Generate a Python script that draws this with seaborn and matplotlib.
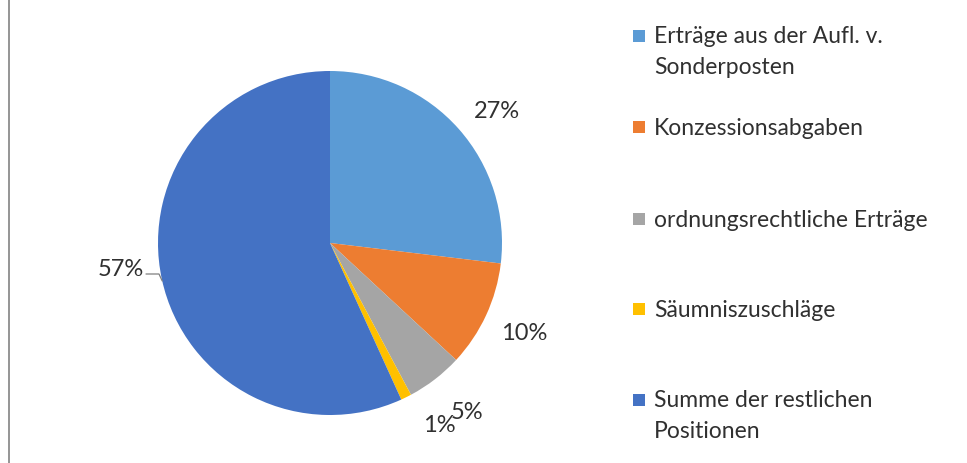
import matplotlib
matplotlib.use("Agg")
import matplotlib.pyplot as plt
import seaborn as sns
import numpy as np
from matplotlib.patches import Rectangle
from matplotlib.lines import Line2D

categories = [
    "Erträge aus der Aufl. v.\nSonderposten",
    "Konzessionsabgaben",
    "ordnungsrechtliche Erträge",
    "Säumniszuschläge",
    "Summe der restlichen\nPositionen",
]
values = [26.9, 10.0, 5.3, 1.0, 56.8]
colors = ["#5B9BD5", "#ED7D31", "#A5A5A5", "#FFC000", "#4472C4"]

sns.set_theme(style="white")
plt.rcParams["font.family"] = ["Lato", "DejaVu Sans"]
TXT = "#303030"

fig = plt.figure(figsize=(9.67, 4.64), dpi=100)
W, H = 967, 464
r = 172
cx, cy = 330, 244
ax = fig.add_axes([(cx - r) / W, 1 - (cy + r) / H, 2 * r / W, 2 * r / H])
wedges, texts, autotexts = ax.pie(
    values, colors=colors, startangle=90, counterclock=False,
    autopct=lambda p: f"{p:.0f}%", pctdistance=1.24,
    textprops=dict(fontsize=17, color=TXT),
    wedgeprops=dict(linewidth=0),
)
ax.set_aspect("equal")
ax.set_xlim(-1, 1)
ax.set_ylim(-1, 1)
ax.axis("off")

# nudge labels (pixel offsets converted to axis units) like the reference
nudges = [(7, -9), (1, 0), (7, 0), (15, 10), (-1, 20)]
for t, (dx, dy) in zip(autotexts, nudges):
    x, y = t.get_position()
    t.set_position((x + dx / r, y + dy / r))

# leader line for the largest label
ex = -np.sqrt(1 - ((cy - 282) / r) ** 2)
ax.add_line(Line2D([(146 - cx) / r, (159 - cx) / r, ex],
                   [(cy - 275) / r, (cy - 275) / r, (cy - 282) / r],
                   color="#7F7F7F", lw=0.9, clip_on=False))

# left frame line
fig.add_artist(Line2D([8.5 / W, 8.5 / W], [0, 1], color="#8C8C8C", lw=1.3))

# legend drawn manually: handle aligned with first text line
baselines = [44, 135, 227, 317, 408]
LINE = 30.5
for lab, col, b in zip(categories, colors, baselines):
    fig.add_artist(Rectangle((633 / W, 1 - (b - 1) / H), 12 / W, 12 / H,
                             facecolor=col, edgecolor="none"))
    nl = lab.count("\n")
    fig.text(654 / W, 1 - (b + LINE * nl) / H, lab, fontsize=16.5, color=TXT,
             va="baseline", ha="left", linespacing=1.62)

fig.savefig("out.png", dpi=100, facecolor="white")
